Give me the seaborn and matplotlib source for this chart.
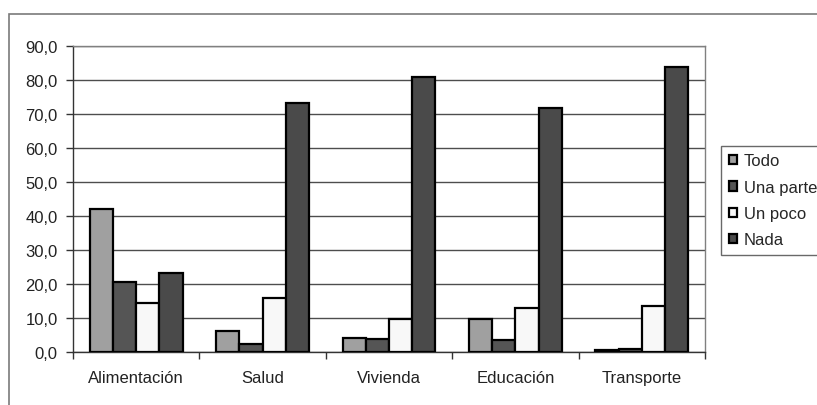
import numpy as np
import pandas as pd
import matplotlib
matplotlib.use("Agg")
import matplotlib.pyplot as plt
from matplotlib.patches import Rectangle
from matplotlib.ticker import FuncFormatter, FixedLocator
import seaborn as sns

categories = ["Alimentación", "Salud", "Vivienda", "Educación", "Transporte"]
series = ["Todo", "Una parte", "Un poco", "Nada"]
todo = [42.0, 6.3, 4.1, 9.6, 0.5]
una_parte = [20.5, 2.3, 3.8, 3.5, 0.8]
un_poco = [14.5, 16.0, 9.6, 12.8, 13.5]
nada = [23.2, 73.3, 80.9, 71.8, 83.7]
yticks = [0, 10, 20, 30, 40, 50, 60, 70, 80, 90]

colors = ["#a0a0a0", "#555555", "#f8f8f8", "#4a4a4a"]

rows = []
for s, vals in zip(series, [todo, una_parte, un_poco, nada]):
    for c, v in zip(categories, vals):
        rows.append({"cat": c, "serie": s, "val": v})
df = pd.DataFrame(rows)

sns.set_style("white")
plt.rcParams["font.family"] = ["Liberation Sans", "DejaVu Sans"]

W, H = 817, 406
fig = plt.figure(figsize=(W / 100, H / 100), dpi=100)
fig.patch.set_facecolor("white")

# outer chart frame (top and left visible)
fig.add_artist(Rectangle((9 / W, -0.2), 1.2, (H - 15) / H + 0.2,
                         transform=fig.transFigure, fill=False,
                         edgecolor="#7a7a7a", linewidth=1.2))

ax = fig.add_axes([73 / W, (H - 353) / H, (705 - 73) / W, (353 - 47) / H])

sns.barplot(data=df, x="cat", y="val", hue="serie", order=categories,
            hue_order=series, palette=colors, saturation=1, width=0.735,
            edgecolor="black", linewidth=1.6, errorbar=None, ax=ax, zorder=3)

ax.set_ylim(0, 90)
ax.set_xlim(-0.5, len(categories) - 0.5)
ax.yaxis.set_major_locator(FixedLocator(yticks))
ax.yaxis.set_major_formatter(FuncFormatter(lambda v, p: f"{v:.1f}".replace(".", ",")))
ax.grid(axis="y", color="#4d4d4d", linewidth=1.0, zorder=0)
ax.set_axisbelow(True)
ax.set_xlabel("")
ax.set_ylabel("")

for sp in ax.spines.values():
    sp.set_color("#808080")
    sp.set_linewidth(1.0)
ax.spines["bottom"].set_color("#333333")
ax.spines["left"].set_color("#333333")

ax.set_xticks(np.arange(len(categories)))
ax.set_xticklabels(categories)
ax.set_xticks(np.arange(len(categories) + 1) - 0.5, minor=True)
ax.tick_params(axis="x", which="major", length=0, pad=13, labelsize=12, labelcolor="#222222")
ax.tick_params(axis="x", which="minor", length=5, width=1, color="#333333", direction="out", bottom=True)
ax.tick_params(axis="y", which="major", length=5, width=1, color="#333333", direction="out",
               left=True, pad=6, labelsize=12, labelcolor="#222222")

handles, labels = ax.get_legend_handles_labels()
ax.get_legend().remove()
leg = fig.legend(handles, labels, loc="upper left", mode="expand",
                 bbox_to_anchor=(721 / W, 1 - 147 / H, 130 / W, 0), bbox_transform=fig.transFigure,
                 frameon=True, fancybox=False, fontsize=12, handlelength=0.5,
                 handleheight=0.5, handletextpad=0.4, labelspacing=0.68,
                 borderpad=0.45, borderaxespad=0)
leg.get_frame().set_edgecolor("#444444")
leg.get_frame().set_linewidth(1.0)

fig.savefig("out.png", dpi=100, facecolor="white")
